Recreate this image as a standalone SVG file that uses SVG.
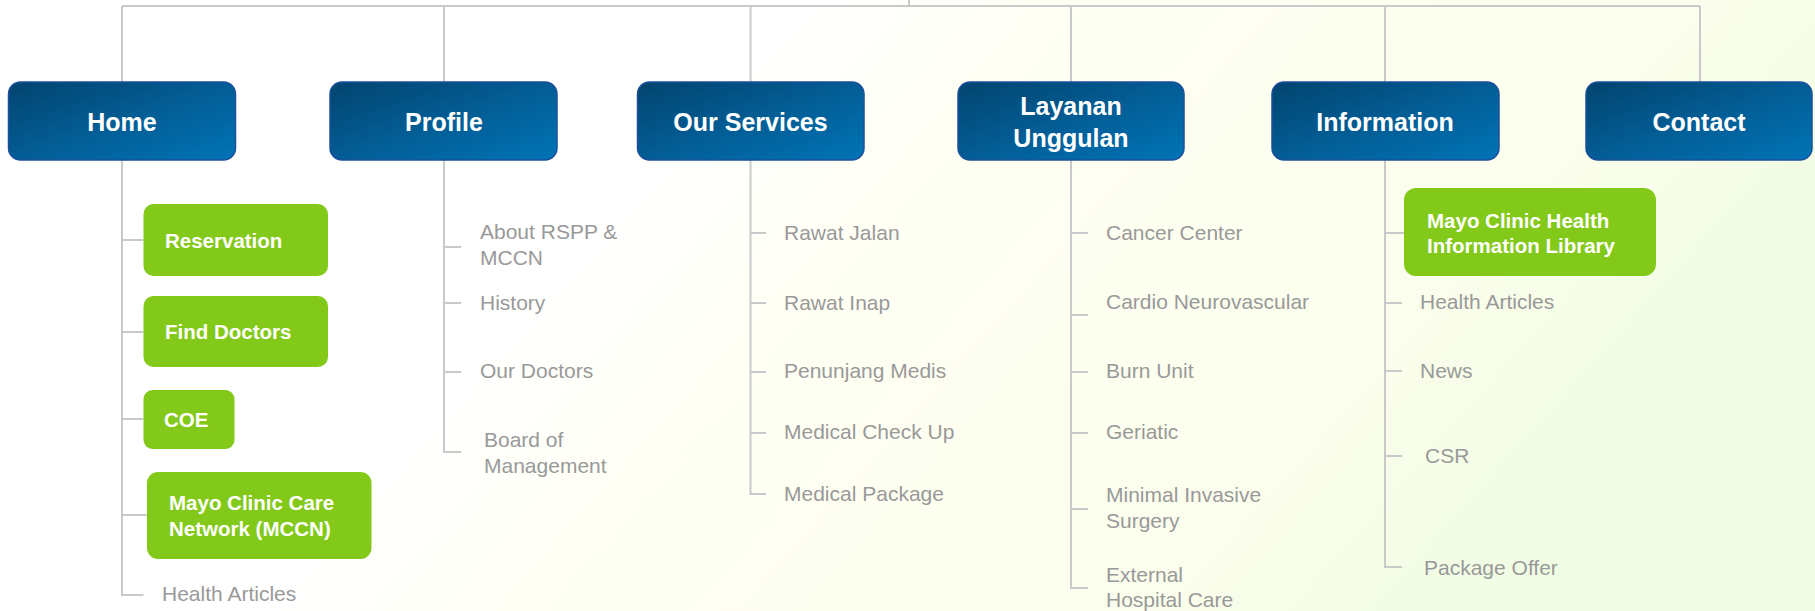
<svg xmlns="http://www.w3.org/2000/svg" width="1815" height="611" viewBox="0 0 1815 611">
<defs>
<linearGradient id="bg" x1="0" y1="0" x2="1" y2="0.3">
<stop offset="0" stop-color="#ffffff"/>
<stop offset="0.4" stop-color="#ffffff"/>
<stop offset="0.55" stop-color="#fffff4"/>
<stop offset="0.85" stop-color="#fbfeec"/>
<stop offset="1" stop-color="#f1fce4"/>
</linearGradient>
<linearGradient id="blue" x1="0" y1="0" x2="1" y2="1">
<stop offset="0" stop-color="#02446f"/>
<stop offset="0.5" stop-color="#035d95"/>
<stop offset="1" stop-color="#0074b6"/>
</linearGradient>
<style>
.main rect{fill:url(#blue);stroke:#1d4f9c;stroke-width:1.5}
.main text{fill:#ffffff;font-family:"Liberation Sans",Arial,sans-serif;font-weight:bold;font-size:25px;text-anchor:middle}
.sub rect{fill:#82c91a}
.sub text{fill:#ffffff;font-family:"Liberation Sans",Arial,sans-serif;font-weight:bold;font-size:20.5px}
.leaf text{fill:#999999;font-family:"Liberation Sans",Arial,sans-serif;font-size:21px}
#connectors path{fill:none;stroke:#c9c9c9;stroke-width:2}
</style>
</defs>
<rect width="1815" height="611" fill="url(#bg)"/>
<g id="connectors">
<path d="M909 0V6M122 6H1700M122 6V82M444 6V82M750.5 6V82M1071 6V82M1385 6V82M1700 6V82"/>
<path d="M122 160V595H143.5M122 240H143.5M122 332H143.5M122 419H143.5M122 515H147"/>
<path d="M444 160V452H461M444 247H461M444 303H461M444 372H461"/>
<path d="M750.5 160V494H766M750.5 233H766M750.5 303H766M750.5 372H766M750.5 433H766"/>
<path d="M1071 160V588H1088M1071 233H1088M1071 315H1088M1071 372H1088M1071 433H1088M1071 509H1088"/>
<path d="M1385 160V567H1402M1385 233H1404M1385 303H1402M1385 371H1402M1385 456H1402"/>
</g>
<g id="home" class="main"><rect x="8.5" y="82" width="227" height="78" rx="12"/><text x="122" y="131">Home</text></g>
<g id="profile" class="main"><rect x="330" y="82" width="227" height="78" rx="12"/><text x="444" y="131">Profile</text></g>
<g id="our-services" class="main"><rect x="637.5" y="82" width="226.5" height="78" rx="12"/><text x="750.5" y="131">Our Services</text></g>
<g id="layanan-unggulan" class="main"><rect x="958" y="82" width="226" height="78" rx="12"/><text x="1071" y="115">Layanan</text><text x="1071" y="147">Unggulan</text></g>
<g id="information" class="main"><rect x="1272" y="82" width="227" height="78" rx="12"/><text x="1385" y="131">Information</text></g>
<g id="contact" class="main"><rect x="1586" y="82" width="226" height="78" rx="12"/><text x="1699" y="131">Contact</text></g>

<g id="reservation" class="sub"><rect x="143.5" y="204" width="184.5" height="72" rx="10"/><text x="165" y="248">Reservation</text></g>
<g id="find-doctors" class="sub"><rect x="143.5" y="296" width="184.5" height="71" rx="10"/><text x="165" y="339">Find Doctors</text></g>
<g id="coe" class="sub"><rect x="143.5" y="390" width="91" height="59" rx="9"/><text x="164" y="427">COE</text></g>
<g id="mccn" class="sub"><rect x="147" y="472" width="224.5" height="87" rx="11"/><text x="169" y="510">Mayo Clinic Care</text><text x="169" y="536">Network (MCCN)</text></g>
<g id="home-health-articles" class="leaf"><text x="162" y="601">Health Articles</text></g>

<g id="about" class="leaf"><text x="480" y="239">About RSPP &amp;</text><text x="480" y="265">MCCN</text></g>
<g id="history" class="leaf"><text x="480" y="310">History</text></g>
<g id="our-doctors" class="leaf"><text x="480" y="378">Our Doctors</text></g>
<g id="board" class="leaf"><text x="484" y="447">Board of</text><text x="484" y="473">Management</text></g>

<g id="rawat-jalan" class="leaf"><text x="784" y="240">Rawat Jalan</text></g>
<g id="rawat-inap" class="leaf"><text x="784" y="310">Rawat Inap</text></g>
<g id="penunjang" class="leaf"><text x="784" y="378">Penunjang Medis</text></g>
<g id="mcu" class="leaf"><text x="784" y="439">Medical Check Up</text></g>
<g id="medical-package" class="leaf"><text x="784" y="501">Medical Package</text></g>

<g id="cancer" class="leaf"><text x="1106" y="240">Cancer Center</text></g>
<g id="cardio" class="leaf"><text x="1106" y="309">Cardio Neurovascular</text></g>
<g id="burn" class="leaf"><text x="1106" y="378">Burn Unit</text></g>
<g id="geriatic" class="leaf"><text x="1106" y="439">Geriatic</text></g>
<g id="mis" class="leaf"><text x="1106" y="502">Minimal Invasive</text><text x="1106" y="528">Surgery</text></g>
<g id="external" class="leaf"><text x="1106" y="582">External</text><text x="1106" y="607">Hospital Care</text></g>

<g id="library" class="sub"><rect x="1404" y="188" width="252" height="88" rx="12"/><text x="1427" y="228">Mayo Clinic Health</text><text x="1427" y="253">Information Library</text></g>
<g id="info-health-articles" class="leaf"><text x="1420" y="309">Health Articles</text></g>
<g id="news" class="leaf"><text x="1420" y="378">News</text></g>
<g id="csr" class="leaf"><text x="1425" y="463">CSR</text></g>
<g id="package-offer" class="leaf"><text x="1424" y="575">Package Offer</text></g>
</svg>
